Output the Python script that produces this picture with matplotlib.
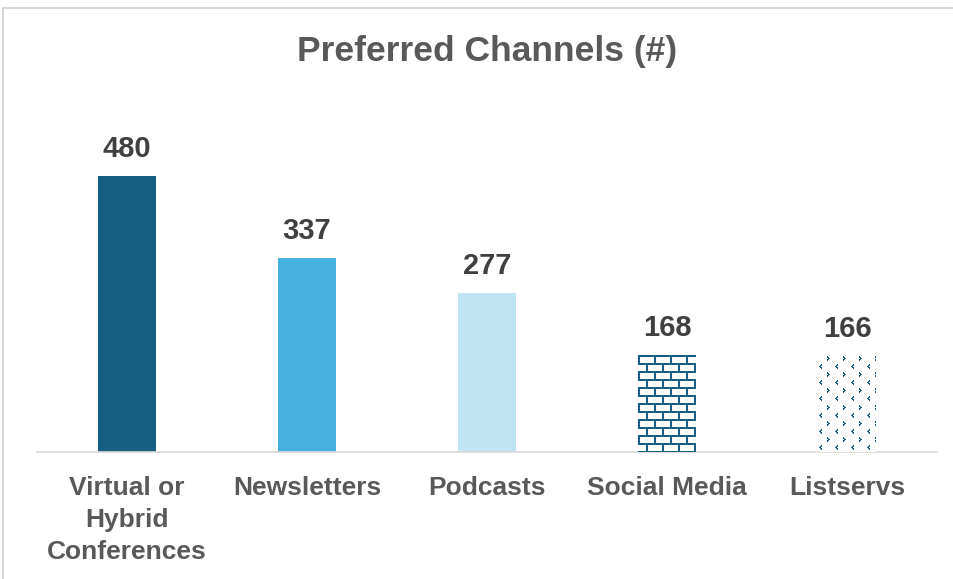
import numpy as np
import matplotlib.pyplot as plt
from matplotlib.lines import Line2D

categories = ["Virtual or\nHybrid\nConferences", "Newsletters", "Podcasts", "Social Media", "Listservs"]
counts = [480, 337, 277, 168, 166]
colors = ["#156082", "#46B1E1", "#C1E4F5", "white", "white"]
patterns = [None, None, None, "brick", "dots"]

dark = "#156082"
text_dark = "#404040"
text_mid = "#595959"
plt.rcParams["font.family"] = ["Liberation Sans", "DejaVu Sans"]

W, H = 954, 579
fig = plt.figure(figsize=(W / 100, H / 100), dpi=100)
ax = fig.add_axes([37 / W, 1 - 452 / H, 900 / W, 276 / H])

x = np.arange(len(categories))
bars = ax.bar(x, counts, width=0.32, color=colors, zorder=2)
ax.set_xlim(-0.5, len(categories) - 0.5)
ax.set_ylim(0, 480)

PAT_RGB = np.array([0x15, 0x60, 0x82]) / 255


def brick_texture(w, h):
    img = np.ones((h, w, 3))
    row_h, brick_w, t = 8, 16, 2
    for yy in range(h):
        r = yy // row_h
        off = 8 if r % 2 else 0
        if yy % row_h < t:
            img[yy, :] = PAT_RGB
        else:
            for xx in range(w):
                if (xx - off) % brick_w < t:
                    img[yy, xx] = PAT_RGB
    return img


def dots_texture(w, h):
    img = np.ones((h, w, 3))
    right = [(0, 0), (1, 0), (1, 1), (2, 1), (2, 2), (3, 0), (3, 1), (4, 0)]
    left = [(0, 2), (1, 1), (1, 2), (2, 0), (2, 1), (3, 1), (3, 2), (4, 2)]
    for yy in range(0, h, 16):
        for xx in range(9, w, 16):
            for dy, dx in right:
                if yy + dy < h and xx + dx < w:
                    img[yy + dy, xx + dx] = PAT_RGB
        for xx in range(1, w, 16):
            for dy, dx in left:
                py, px = yy + 8 + dy, xx + dx
                if 0 <= py < h and 0 <= px < w:
                    img[py, px] = PAT_RGB
    return img


for b, p in zip(bars, patterns):
    if p is None:
        continue
    x0, x1 = b.get_x(), b.get_x() + b.get_width()
    y1 = b.get_height()
    (px0, py0), (px1, py1) = ax.transData.transform([(x0, 0), (x1, y1)])
    pw, ph = int(round(px1 - px0)), int(round(py1 - py0))
    tex = brick_texture(pw, ph) if p == "brick" else dots_texture(pw, ph)
    ax.imshow(tex, extent=(x0, x1, 0, y1), aspect="auto", interpolation="nearest",
              clip_path=b, zorder=3)

ax.set_xlim(-0.5, len(categories) - 0.5)
ax.set_ylim(0, 480)

for b, v in zip(bars, counts):
    ax.annotate(f"{v}", (b.get_x() + b.get_width() / 2, v), xytext=(0, 9.5),
                textcoords="offset points", ha="center", va="bottom",
                fontsize=21, fontweight="bold", color=text_dark)

for s in ["top", "right", "left"]:
    ax.spines[s].set_visible(False)
ax.spines["bottom"].set_color("#D9D9D9")
ax.spines["bottom"].set_linewidth(1.2)
ax.set_yticks([])
ax.set_xticks(x)
ax.set_xticklabels(categories, fontsize=19, fontweight="bold", color=text_mid,
                   linespacing=1.42, va="top")
ax.tick_params(axis="x", length=0, pad=17.5)

fig.text(487 / W, 1 - 52 / H, "Preferred Channels (#)", ha="center", va="center",
         fontsize=25.5, fontweight="bold", color=text_mid)

# chart frame
fig.add_artist(Line2D([3 / W, 1], [1 - 8 / H, 1 - 8 / H], transform=fig.transFigure,
                      color="#D0D0D0", lw=1.2))
fig.add_artist(Line2D([3 / W, 3 / W], [0, 1 - 8 / H], transform=fig.transFigure,
                      color="#D0D0D0", lw=1.2))

fig.savefig("out.png", dpi=100)
